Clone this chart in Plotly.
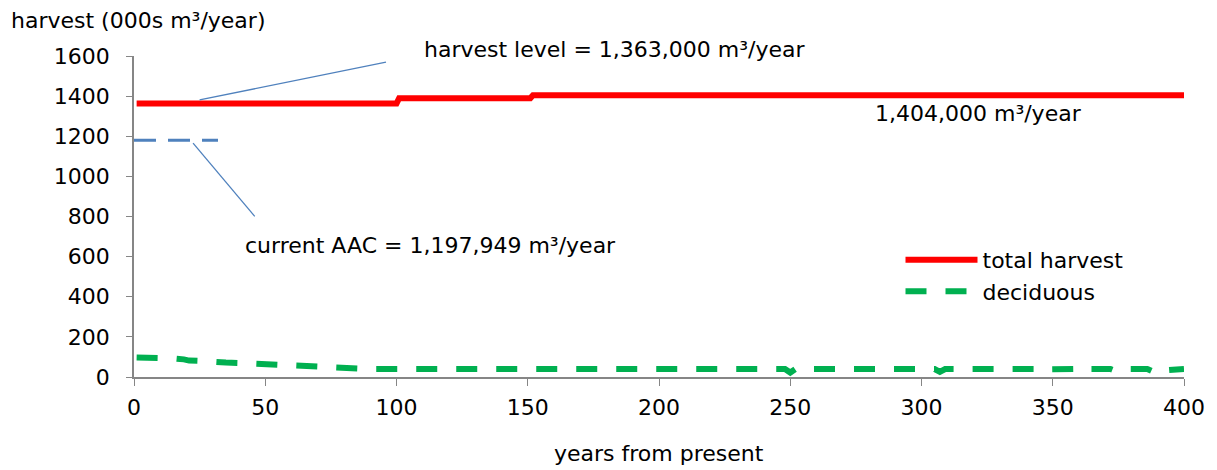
import plotly.graph_objects as go

# ---- data ----
total_years = [1, 100, 101, 151, 152, 400]
total_harvest = [1363, 1363, 1390, 1390, 1404, 1404]

aac_years = [0, 32]
aac_value = [1180, 1180]

dec_years = [1, 5, 10, 15, 19, 21, 25, 30, 35, 40, 45, 47, 49, 55, 60, 65, 70, 75, 79, 81, 85, 90,
             100, 150, 200, 248, 250, 252, 305, 307, 309, 345, 347, 349, 359, 361, 363,
             372, 374, 376, 386, 388, 390, 392, 400]
dec_values = [97, 97, 96, 93, 88, 82, 80, 74, 72, 70, 67, 64, 60, 57, 53, 50, 49, 47, 46, 42, 41, 40,
              40, 40, 40, 40, 22, 40, 40, 26, 40, 40, 32, 38, 40, 30, 40,
              40, 30, 40, 40, 28, 42, 32, 40]

x_ticks = [0, 50, 100, 150, 200, 250, 300, 350, 400]
y_ticks = [0, 200, 400, 600, 800, 1000, 1200, 1400, 1600]

# leader lines (data coords)
lead_harvest_x = [25, 96]
lead_harvest_y = [1381, 1569]
lead_aac_x = [22.5, 46]
lead_aac_y = [1166, 801]

FONT = "DejaVu Sans"
BLUE = "#4F81BD"
AXIS = "#868686"
FS = 22

fig = go.Figure()
fig.add_trace(go.Scatter(x=total_years, y=total_harvest, mode="lines", name="total harvest",
                         line=dict(color="#FF0000", width=6)))
fig.add_trace(go.Scatter(x=dec_years, y=dec_values, mode="lines", name="deciduous",
                         line=dict(color="#00B050", width=6, dash="21px,19px")))
fig.add_trace(go.Scatter(x=aac_years, y=aac_value, mode="lines", showlegend=False,
                         line=dict(color=BLUE, width=3, dash="22px,12px")))
fig.add_trace(go.Scatter(x=lead_harvest_x, y=lead_harvest_y, mode="lines", showlegend=False,
                         line=dict(color=BLUE, width=1.3)))
fig.add_trace(go.Scatter(x=lead_aac_x, y=lead_aac_y, mode="lines", showlegend=False,
                         line=dict(color=BLUE, width=1.3)))

ann = dict(font=dict(family=FONT, size=FS, color="black"), showarrow=False)
fig.add_annotation(xref="paper", yref="paper", x=0.274, y=1.019,
                   text="harvest level = 1,363,000 m³/year", xanchor="left",
                   yanchor="middle", **ann)
fig.add_annotation(x=41.5, y=656, text="current AAC = 1,197,949 m³/year", xanchor="left",
                   yanchor="middle", **ann)
fig.add_annotation(x=281.5, y=1315, text="1,404,000 m³/year", xanchor="left",
                   yanchor="middle", **ann)
fig.add_annotation(xref="paper", yref="paper", x=-0.119, y=1.112, text="harvest (000s m³/year)",
                   xanchor="left", yanchor="middle", **ann)
fig.add_annotation(xref="paper", yref="paper", x=0.5, y=-0.237, text="years from present",
                   xanchor="center", yanchor="middle", **ann)

fig.update_layout(
    width=1209, height=462,
    margin=dict(l=126, r=33, t=48, b=93),
    paper_bgcolor="white", plot_bgcolor="white",
    font=dict(family=FONT, size=FS, color="black"),
    legend=dict(x=0.73, y=0.43, xanchor="left", yanchor="top", bgcolor="rgba(0,0,0,0)",
                font=dict(family=FONT, size=FS, color="black"), itemwidth=72,
                tracegroupgap=0),
)
fig.update_xaxes(range=[0, 400], tickvals=x_ticks, showgrid=False, zeroline=False,
                 showline=True, linecolor=AXIS, linewidth=1.5, ticks="outside",
                 ticklen=7, tickcolor=AXIS, ticklabelstandoff=3,
                 tickfont=dict(family=FONT, size=FS, color="black"))
fig.update_yaxes(range=[0, 1600], tickvals=y_ticks, showgrid=False, zeroline=False,
                 showline=True, linecolor=AXIS, linewidth=1.5, ticks="outside",
                 ticklen=6, tickcolor=AXIS, ticklabelstandoff=12,
                 tickfont=dict(family=FONT, size=FS, color="black"))

fig.write_html("out.html")
